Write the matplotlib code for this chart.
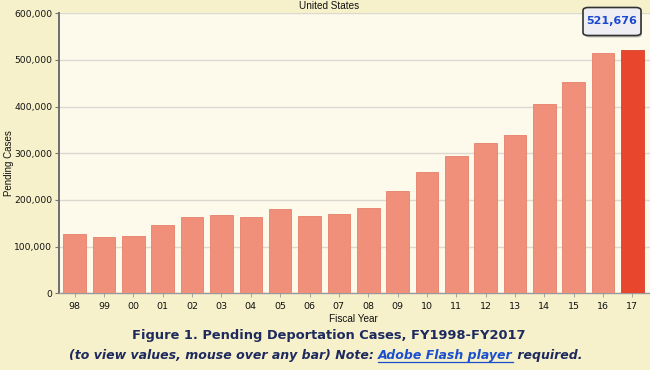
import matplotlib
matplotlib.use("Agg")
import matplotlib.pyplot as plt
from matplotlib.patches import FancyBboxPatch
from matplotlib.ticker import FuncFormatter

years = ["98", "99", "00", "01", "02", "03", "04", "05", "06", "07",
         "08", "09", "10", "11", "12", "13", "14", "15", "16", "17"]
pending = [127000, 120000, 122000, 146000, 163000, 167000, 163000, 181000, 165000, 171000,
           183000, 220000, 259000, 294000, 322000, 340000, 405000, 452000, 514000, 521676]
yticks = [0, 100000, 200000, 300000, 400000, 500000, 600000]
chart_title = "United States"
x_label = "Fiscal Year"
y_label = "Pending Cases"
caption1 = "Figure 1. Pending Deportation Cases, FY1998-FY2017"
caption2_parts = ["(to view values, mouse over any bar) Note: ", "Adobe Flash player", " required."]
tooltip = "521,676"

OUTER = "#F6F1CA"
PLOTBG = "#FDFAEC"
BAR = "#F0907A"
BAR_LAST = "#E8472E"
NAVY = "#1E2A5E"

fig = plt.figure(figsize=(6.5, 3.7), dpi=100, facecolor=OUTER)
ax = fig.add_axes([58.7 / 650, 1 - 293.3 / 370, (650 - 58.7) / 650, (293.3 - 13.3) / 370])
ax.set_facecolor(PLOTBG)

x = list(range(len(years)))
colors = [BAR] * (len(years) - 1) + [BAR_LAST]
ax.bar(x, pending, width=0.77, color=colors, edgecolor=["#E58068"] * (len(years) - 1) + ["#D8402A"],
       linewidth=0.6, zorder=3)

ax.set_xlim(-0.545, 19.6)
ax.set_ylim(0, 600000)
ax.set_yticks(yticks)
ax.yaxis.set_major_formatter(FuncFormatter(lambda v, p: f"{int(v):,}"))
ax.set_xticks(x)
ax.set_xticklabels(years)
ax.grid(axis="y", color="#DCDAD0", linewidth=1.0, zorder=0)
for s in ["top", "right"]:
    ax.spines[s].set_visible(False)
ax.spines["left"].set_color("#6E6E6E")
ax.spines["left"].set_linewidth(1.4)
ax.spines["bottom"].set_color("#999999")
ax.spines["bottom"].set_linewidth(1.0)
ax.tick_params(axis="y", length=3, width=0.8, color="#777777", pad=1.5, labelsize=6.6)
ax.tick_params(axis="x", length=3, width=0.6, color="#999999", pad=3.5, labelsize=6.8)
for lab in ax.get_xticklabels() + ax.get_yticklabels():
    lab.set_family("DejaVu Sans")
    lab.set_color("#111111")

# top band title
fig.text(329 / 650, 1 - 6 / 370, chart_title, ha="center", va="center",
         fontsize=7.2, family="Liberation Sans", color="#111111")
fig.text(353 / 650, 1 - 319 / 370, x_label, ha="center", va="center",
         fontsize=7.2, family="Liberation Sans", color="#111111")
fig.text(9 / 650, 1 - 163 / 370, y_label, ha="center", va="center", rotation=90,
         fontsize=7, family="Liberation Sans", color="#111111")

# tooltip
shadow = FancyBboxPatch((585 / 650, 1 - 37.5 / 370), 57 / 650, 27 / 370,
                        boxstyle="round,pad=0,rounding_size=0.008",
                        transform=fig.transFigure, facecolor="#888888", edgecolor="none",
                        alpha=0.5, zorder=5)
fig.patches.append(shadow)
box = FancyBboxPatch((583 / 650, 1 - 35.5 / 370), 58 / 650, 28 / 370,
                     boxstyle="round,pad=0,rounding_size=0.008",
                     transform=fig.transFigure, facecolor="#EFEFF3", edgecolor="#333333",
                     linewidth=1.2, zorder=6)
fig.patches.append(box)
fig.text(612 / 650, 1 - 21 / 370, tooltip, ha="center", va="center", fontsize=8,
         fontweight="bold", family="DejaVu Sans", color="#1A48CF", zorder=7)

# captions
fig.text(329 / 650, 1 - 336 / 370, caption1, ha="center", va="center", fontsize=9.4,
         fontweight="bold", family="DejaVu Sans", color=NAVY)

renderer = fig.canvas.get_renderer()
y2 = 1 - 355 / 370
pieces = []
for i, part in enumerate(caption2_parts):
    col = "#1A4FD0" if i == 1 else NAVY
    t = fig.text(0, y2, part, ha="left", va="center", fontsize=9.0, fontweight="bold",
                 style="italic", family="DejaVu Sans", color=col)
    pieces.append(t)
widths = [p.get_window_extent(renderer).width for p in pieces]
total = sum(widths)
start = 325.5 - total / 2
cur = start
for p, w in zip(pieces, widths):
    p.set_x(cur / 650)
    cur += w
# underline link
lx0 = (start + widths[0]) / 650
lx1 = (start + widths[0] + widths[1]) / 650
uy = 1 - 361.5 / 370
fig.add_artist(plt.Line2D([lx0, lx1], [uy, uy], transform=fig.transFigure,
                          color="#1A4FD0", linewidth=0.9))

fig.savefig("out.png", dpi=100, facecolor=OUTER)
